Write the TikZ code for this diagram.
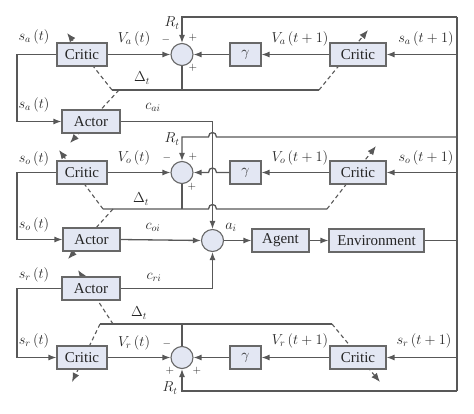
\documentclass[tikz,border=0pt]{standalone}
\usepackage{fontspec}
\newfontfamily\boxfont{Liberation Serif}
\usetikzlibrary{arrows.meta}
\definecolor{linec}{HTML}{585858}
\definecolor{boxd}{HTML}{686868}
\definecolor{boxf}{HTML}{E3E7F3}
\definecolor{txt}{HTML}{252525}
\pgfdeclarelayer{bg}
\pgfsetlayers{bg,main}
\tikzset{
 blk/.style={draw=boxd, fill=boxf, line width=1.1pt, minimum height=23pt, inner sep=2pt, font=\boxfont\fontsize{15}{17}\selectfont, text=txt},
 sumnode/.style={circle, draw=boxd, fill=boxf, line width=1.1pt, minimum size=22pt, inner sep=0pt},
 conn/.style={draw=linec, line width=1.3pt},
 arr/.style={conn, -{Latex[length=8pt,width=6pt]}},
 darr/.style={arr, line width=1.1pt, dash pattern=on 4pt off 3pt, -{Latex[length=9pt,width=7pt]}},
 lbl/.style={font=\fontsize{14}{16}\selectfont, text=txt, inner sep=0pt},
 sgn/.style={font=\fontsize{11}{13}\selectfont, text=txt, inner sep=0pt},
}
\begin{document}
\begin{tikzpicture}[x=1pt,y=-1pt]
\useasboundingbox (0,0) rectangle (474,413);
% ---------- nodes ----------
\node[blk, minimum width=50pt] (ca)  at (82,54.5) {Critic};
\node[sumnode] (sa) at (182,54.5) {};
\node[blk, minimum width=31pt] (ga)  at (245.5,54.5) {$\gamma$};
\node[blk, minimum width=56pt] (cra) at (358,54.5) {Critic};
\node[blk, minimum width=58pt] (aa)  at (91,121.5) {Actor};

\node[blk, minimum width=50pt] (co)  at (82,172.5) {Critic};
\node[sumnode] (so) at (182,172.5) {};
\node[blk, minimum width=31pt] (go)  at (245.5,172.5) {$\gamma$};
\node[blk, minimum width=56pt] (cro) at (358,172.5) {Critic};
\node[blk, minimum width=57pt] (ao)  at (91.5,239.5) {Actor};
\node[sumnode] (ai) at (212.5,240.5) {};
\node[blk, minimum width=57pt] (agent) at (280.5,240.5) {Agent};
\node[blk, minimum width=95pt] (env) at (376.5,240.5) {Environment};

\node[blk, minimum width=58pt] (ar)  at (91,288.5) {Actor};
\node[blk, minimum width=50pt] (cr)  at (82,357.5) {Critic};
\node[sumnode] (sr) at (182,357.5) {};
\node[blk, minimum width=31pt] (gr)  at (245.5,357.5) {$\gamma$};
\node[blk, minimum width=56pt] (crr) at (358,357.5) {Critic};

\coordinate (bt) at (457,17);
\coordinate (bb) at (457,391);

% ---------- dashed adaptation arrows (behind boxes) ----------
\begin{pgfonlayer}{bg}
\coordinate (dla) at (112,90);  \coordinate (dlb) at (119,90);  \coordinate (dra) at (319,90);
\draw[darr] (dla) -- (67,33);
\draw[darr] (dlb) -- (70,143);
\draw[darr] (dra) -- (368,30);
\coordinate (dloa) at (103,209); \coordinate (dlob) at (113,209); \coordinate (droa) at (327,209);
\draw[darr] (dloa) -- (59,150);
\draw[darr] (dlob) -- (68,259);
\draw[darr] (droa) -- (376,146);
\coordinate (dlra) at (100,324); \coordinate (dlrb) at (113,324); \coordinate (drra) at (332,324);
\draw[darr] (dlra) -- (72,382);
\draw[darr] (dlrb) -- (78,270);
\draw[darr] (drra) -- (380,382);
\end{pgfonlayer}

% ---------- right bus ----------
\draw[conn] (bt) -- (bb);

% ---------- section a ----------
\draw[arr] (ca.west) -- (17,54.5) |- (aa.west);
\draw[arr] (ca.east) -- (sa.west);
\draw[arr] (ga.west) -- (sa.east);
\draw[arr] (cra.west) -- (ga.east);
\draw[arr] (457,54.5) -- (cra.east);
\draw[arr] (bt) -| (sa.north);
\draw[conn] (sa.south) -- (182,90);
\draw[conn] (dla) -- (dra);

% ---------- actor a output to a_i ----------
\draw[arr] (aa.east) -- (212.5,121.5) -- (ai.north);

% ---------- section o ----------
\draw[arr] (co.west) -- (17,172.5) |- (ao.west);
\draw[arr] (co.east) -- (so.west);
\draw[arr] (go.west) -- (216.5,172.5) .. controls (216.5,166.5) and (208.5,166.5) .. (208.5,172.5) -- (so.east);
\draw[arr] (cro.west) -- (go.east);
\draw[arr] (457,172.5) -- (cro.east);
\draw[arr] (457,137) -- (216.5,137) .. controls (216.5,131) and (208.5,131) .. (208.5,137) -| (so.north);
\draw[conn] (so.south) -- (182,209);
\draw[conn] (dloa) -- (208.5,209) .. controls (208.5,203) and (216.5,203) .. (216.5,209) -- (droa);

\draw[arr] (ao.east) -- (ai.west);
\draw[arr] (ai.east) -- (agent.west);
\draw[arr] (agent.east) -- (env.west);
\draw[conn] (env.east) -- (457,240.5);

% ---------- section r ----------
\draw[arr] (ar.east) -- (212.5,288.5) -- (ai.south);
\draw[arr] (ar.west) -- (17,288.5) |- (cr.west);
\draw[arr] (cr.east) -- (sr.west);
\draw[arr] (gr.west) -- (sr.east);
\draw[arr] (crr.west) -- (gr.east);
\draw[arr] (457,357.5) -- (crr.east);
\draw[arr] (bb) -| (sr.south);
\draw[conn] (sr.north) -- (182,324);
\draw[conn] (dlra) -- (drra);

% ---------- labels ----------
\node[lbl] at (34,37) {$s_a\,(t)$};
\node[lbl] at (134,39) {$V_a\,(t)$};
\node[lbl] at (300,39) {$V_a\,(t+1)$};
\node[lbl] at (426,39) {$s_a\,(t+1)$};
\node[lbl] at (34,105) {$s_a\,(t)$};
\node[lbl] at (142,78) {$\Delta_t$};
\node[lbl] at (153,107) {$c_{ai}$};
\node[lbl] at (172,23) {$R_t$};
\node[sgn] at (166,40) {$-$};
\node[sgn] at (193,38) {$+$};
\node[sgn] at (193,68) {$+$};

\node[lbl] at (34,159) {$s_o\,(t)$};
\node[lbl] at (134,158) {$V_o\,(t)$};
\node[lbl] at (300,158) {$V_o\,(t+1)$};
\node[lbl] at (426,158) {$s_o\,(t+1)$};
\node[lbl] at (34,225) {$s_o\,(t)$};
\node[lbl] at (141,199) {$\Delta_t$};
\node[lbl] at (153,227) {$c_{oi}$};
\node[lbl] at (172,139) {$R_t$};
\node[sgn] at (167,158) {$-$};
\node[sgn] at (193,157) {$+$};
\node[sgn] at (192,187) {$+$};
\node[lbl] at (231,227) {$a_i$};

\node[lbl] at (34,275) {$s_r\,(t)$};
\node[lbl] at (154,277) {$c_{ri}$};
\node[lbl] at (139,313) {$\Delta_t$};
\node[lbl] at (34,341) {$s_r\,(t)$};
\node[lbl] at (134,343) {$V_r\,(t)$};
\node[lbl] at (300,341) {$V_r\,(t+1)$};
\node[lbl] at (424,341) {$s_r\,(t+1)$};
\node[lbl] at (170,388) {$R_t$};
\node[sgn] at (167,344) {$-$};
\node[sgn] at (170,371) {$+$};
\node[sgn] at (197,371) {$+$};
\end{tikzpicture}
\end{document}
